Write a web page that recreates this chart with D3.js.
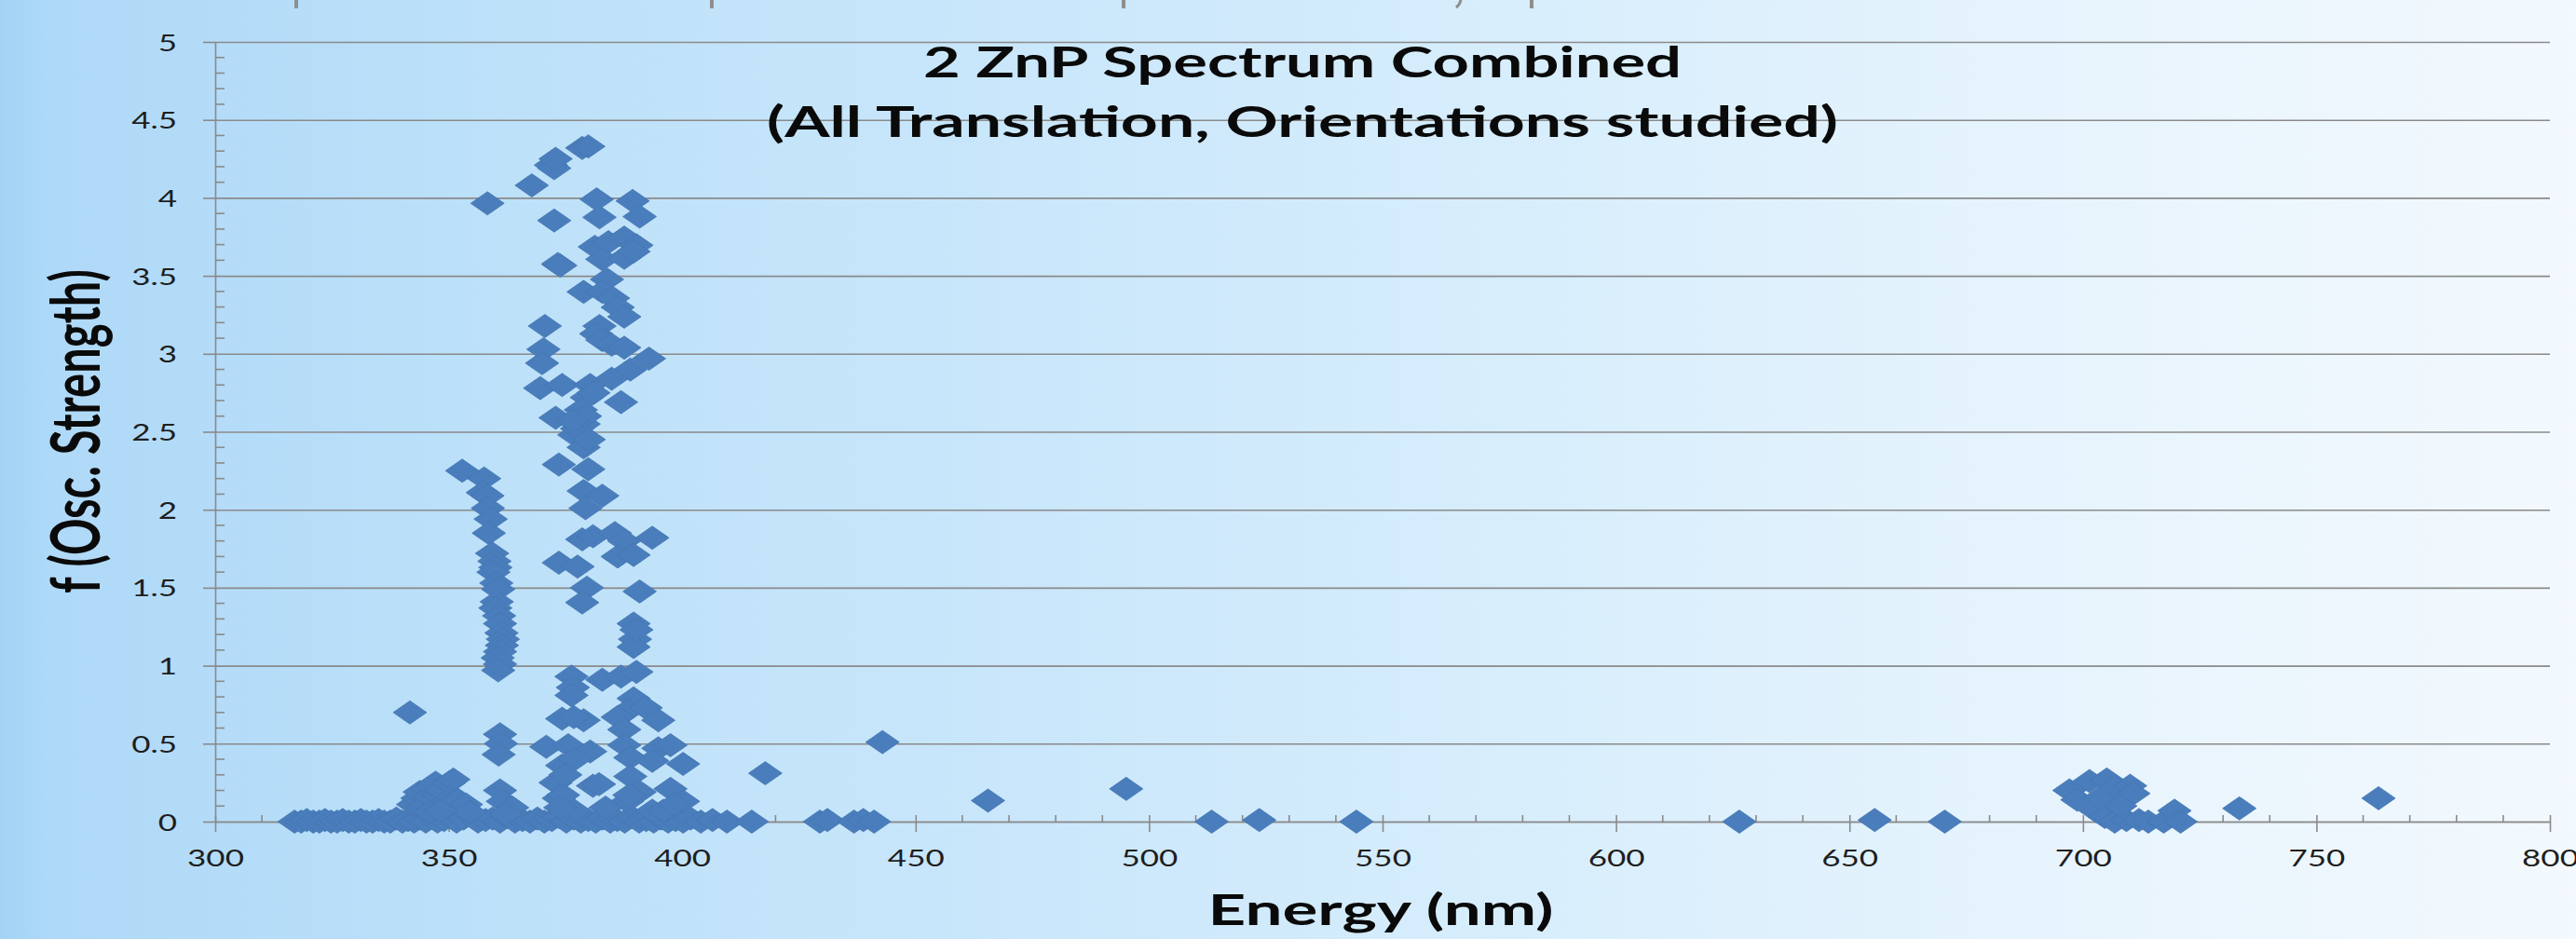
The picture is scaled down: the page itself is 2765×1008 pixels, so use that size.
<!DOCTYPE html>
<html>
<head>
<meta charset="utf-8">
<script src="https://cdn.jsdelivr.net/npm/d3@7"></script>
<style>
  html, body { margin: 0; padding: 0; overflow: hidden; background: #cfe8fb; }
</style>
</head>
<body>
<svg id="chart" width="2765" height="1008"></svg>
<script>
// ---- Data: excitation energy (nm) and oscillator strength f, grouped by spectral region ----
const baselineTransitions = [
  [317.0,0],[318.4,0],[319.6,0.01],[321.0,0],[322.3,0],[323.5,0.01],[324.8,0],[326.1,0],
  [327.3,0.01],[328.6,0],[329.9,0],[331.2,0.01],[332.4,0],[333.7,0],[335.0,0.01],[336.2,0],
  [337.5,0],[338.8,0.02],[340.1,0],[341.3,0.01],[342.6,0],[343.9,0.02],[345.1,0],[346.4,0.03],
  [347.6,0],[349.0,0.01],[350.3,0.04],[351.7,0],[353.2,0.02],[354.8,0.05],[356.3,0],[357.9,0.01],
  [359.4,0.02],[361.0,0],[362.6,0.03],[364.2,0],[365.8,0.01],[367.4,0],[369.0,0.02],[370.5,0],
  [372.1,0.01],[373.6,0.03],[375.2,0],[376.8,0.02],[378.3,0],[379.9,0.01],[381.5,0],[383.0,0.02],
  [384.6,0],[386.1,0.01],[387.7,0],[389.2,0.03],[390.8,0],[392.3,0.01],[393.9,0],[395.5,0.02],
  [397.0,0],[398.6,0.01],[400.2,0],[401.8,0.02],[404.0,0],[406.5,0.01],[409.6,0],[414.9,0],
  [429.5,0],[431.1,0.01],[436.8,0],[438.8,0.01],[441.1,0],[513.4,0],[523.6,0.01],[544.4,0],
  [626.4,0],[655.4,0.01],[670.4,0]
];

const shoulder345 = [
  [341.7,0.70],[342.4,0.11],[343.3,0.15],[343.8,0.19],[344.4,0.09],[345.5,0.21],[345.9,0.16],
  [346.6,0.23],[347.2,0.25],[347.9,0.17],[348.6,0.20],[349.2,0.12],[350.1,0.25],[351.0,0.27],
  [352.0,0.14],[353.7,0.11],[354.6,0.06],[346.0,0.06],[348.2,0.07]
];

const band360 = [
  [352.9,2.25],[357.6,2.20],[357.3,2.11],[358.3,2.09],[358.4,2.01],[359.0,1.94],[358.6,1.85],
  [359.3,1.72],[359.8,1.67],[360.0,1.63],[359.6,1.60],[360.2,1.53],[360.6,1.49],[360.3,1.41],
  [360.0,1.37],[360.8,1.32],[361.0,1.27],[361.3,1.21],[361.6,1.17],[361.4,1.13],[361.0,1.09],
  [360.5,1.05],[361.0,1.01],[360.6,0.97],[358.3,3.965],
  [361.0,0.56],[361.2,0.50],[360.7,0.43],[361.0,0.20],[361.6,0.13],[363.6,0.09],[362.2,0.05]
];

const band380Upper = [
  [367.8,4.08],[371.9,4.21],[372.6,4.19],[372.9,4.25],[378.6,4.32],[379.9,4.33],[381.7,3.99],
  [389.4,3.98],[372.6,3.855],[382.3,3.875],[390.9,3.88],[381.3,3.686],[384.2,3.716],[387.6,3.745],
  [390.2,3.696],[382.9,3.606],[387.6,3.616],[389.6,3.656],[373.4,3.576],[373.9,3.566],[383.9,3.477],
  [378.9,3.397],[382.9,3.397],[385.2,3.357],[386.2,3.298],[387.6,3.238],[370.6,3.178],[382.3,3.178],
  [381.6,3.128],[382.9,3.088],[384.9,3.058],[387.6,3.039],[392.9,2.969],[388.9,2.899],[370.3,3.029],
  [370.0,2.94],[369.6,2.78],[374.3,2.80],[380.3,2.80],[384.9,2.84],[386.9,2.69],[379.6,2.72],
  [372.9,2.59],[378.3,2.64],[378.9,2.55],[376.9,2.48],[378.9,2.40],[373.6,2.29],[379.9,2.26],
  [377.5,2.52],[379.2,2.60],[376.5,2.57],[381.0,2.75],[380.0,2.45]
];

const band380Middle = [
  [378.9,2.12],[382.9,2.09],[379.3,2.01],[378.6,1.81],[380.9,1.83],[385.6,1.85],[387.6,1.80],
  [393.6,1.82],[386.2,1.70],[389.6,1.71],[373.6,1.66],[377.6,1.635],[379.6,1.50],[378.6,1.405],
  [390.9,1.476],[389.6,1.27],[389.9,1.17],[389.6,1.12],[390.2,1.23],[376.3,0.93],[376.6,0.86],
  [376.3,0.81],[382.9,0.91],[386.9,0.93],[390.2,0.96]
];

const band380Lower = [
  [374.3,0.66],[378.9,0.65],[376.8,0.67],[389.6,0.79],[388.2,0.71],[392.2,0.73],[394.9,0.65],
  [386.2,0.67],[370.9,0.48],[375.6,0.49],[380.3,0.45],[387.6,0.59],[387.6,0.49],[394.9,0.47],
  [397.5,0.49],[388.9,0.41],[393.6,0.39],[400.2,0.37],[374.3,0.36],[372.9,0.25],[380.9,0.23],
  [388.9,0.29],[390.9,0.19],[397.5,0.21],[400.2,0.13],[373.6,0.15],[388.2,0.13],[383.6,0.09],
  [376.9,0.07],[393.6,0.07],[396.0,0.07],[398.3,0.11],[374.5,0.17],[373.9,0.09],[382.2,0.24],
  [388.7,0.17],[377.0,0.40],[375.0,0.30]
];

const visibleTail = [
  [417.8,0.31],[442.9,0.51],[465.5,0.135],[495.1,0.21]
];

const band705 = [
  [697.1,0.20],[698.8,0.14],[701.4,0.26],[705.1,0.27],[706.8,0.22],[710.1,0.23],[710.8,0.18],
  [702.7,0.07],[704.7,0.03],[706.8,0.0],[709.3,0.01],[712.0,0.01],[714.0,0.0],[717.3,0.0],
  [719.6,0.07],[720.9,0.0],[733.5,0.085],[763.3,0.15],[703.5,0.15],[708.0,0.10]
];

const xTickValues = [300, 350, 400, 450, 500, 550, 600, 650, 700, 750, 800];
const xTickLabels = ["300","350","400","450","500","550","600","650","700","750","800"];
const yTickValues = [0, 0.5, 1, 1.5, 2, 2.5, 3, 3.5, 4, 4.5, 5];
const yTickLabels = ["0","0.5","1","1.5","2","2.5","3","3.5","4","4.5","5"];

const titleLines = ["2 ZnP Spectrum Combined", "(All Translation, Orientations studied)"];
const xAxisTitle = "Energy (nm)";
const yAxisTitle = "f (Osc. Strength)";

// ---- Drawing ----
const W = 2765, H = 1008;
const svg = d3.select("#chart");
const defs = svg.append("defs");

const bg = defs.append("linearGradient").attr("id", "bg")
  .attr("x1", 0).attr("x2", 1).attr("y1", 0).attr("y2", 0);
[[0, "#a2d3f6"], [0.02, "#afd9f8"], [0.2, "#bde1f9"], [0.4, "#cae7fb"],
 [0.6, "#d8eefc"], [0.8, "#e7f4fd"], [1, "#f3f9fe"]]
  .forEach(([o, c]) => bg.append("stop").attr("offset", o).attr("stop-color", c));
svg.append("rect").attr("width", W).attr("height", H).attr("fill", "url(#bg)");

// remnants of the header table border along the top edge
const header = svg.append("g").attr("stroke", "#8f8f8f").attr("stroke-width", 4);
[318, 764, 1206, 1644].forEach(px =>
  header.append("line").attr("x1", px).attr("x2", px).attr("y1", 0).attr("y2", 9));
svg.append("path").attr("d", "M1568,0 Q1567,5 1563,8").attr("fill", "none")
  .attr("stroke", "#8f8f8f").attr("stroke-width", 3);

const x = d3.scaleLinear().domain([300, 800]).range([231, 2737]);
const y = d3.scaleLinear().domain([0, 5]).range([882, 45]);

const gridColor = "#8a8a8a";
const fontFamily = "Lato, 'Open Sans', sans-serif";

// horizontal gridlines
svg.append("g").attr("transform", `translate(${x(300)},0)`)
  .call(d3.axisLeft(y).tickValues(yTickValues).tickSize(-(x(800) - x(300))).tickFormat(""))
  .call(g => g.select(".domain").remove())
  .call(g => g.selectAll("line").attr("stroke", gridColor).attr("stroke-width", 1.6));

// y axis with outward major ticks and labels
const yAxisG = svg.append("g").attr("transform", `translate(${x(300)},0)`)
  .call(d3.axisLeft(y).tickValues(yTickValues).tickSize(13).tickSizeOuter(0)
    .tickFormat((d, i) => yTickLabels[i]));
yAxisG.select(".domain").attr("stroke", gridColor).attr("stroke-width", 1.6);
yAxisG.selectAll(".tick line").attr("stroke", gridColor).attr("stroke-width", 1.6);
yAxisG.selectAll(".tick text")
  .attr("x", -41 / 1.4).attr("dy", "0.36em")
  .attr("transform", "scale(1.4,1)")
  .attr("font-family", fontFamily).attr("font-size", 25).attr("fill", "#1e1e1e");

// y minor ticks (inside)
const yMinor = d3.range(1, 50).filter(k => k % 5 !== 0).map(k => k / 10);
svg.append("g").selectAll("line").data(yMinor).join("line")
  .attr("x1", x(300)).attr("x2", x(300) + 10)
  .attr("y1", d => y(d)).attr("y2", d => y(d))
  .attr("stroke", gridColor).attr("stroke-width", 1.6);

// x axis
const xAxisG = svg.append("g").attr("transform", `translate(0,${y(0)})`)
  .call(d3.axisBottom(x).tickValues(xTickValues).tickSize(11).tickSizeOuter(0)
    .tickFormat((d, i) => xTickLabels[i]));
xAxisG.select(".domain").attr("stroke", gridColor).attr("stroke-width", 1.6);
xAxisG.selectAll(".tick line").attr("y1", -7).attr("stroke", gridColor).attr("stroke-width", 1.6);
xAxisG.selectAll(".tick text")
  .attr("y", 48).attr("dy", 0)
  .attr("transform", "scale(1.4,1)")
  .attr("font-family", fontFamily).attr("font-size", 25).attr("fill", "#1e1e1e");

// x minor ticks (every 10 nm, above the axis)
const xMinor = d3.range(310, 800, 10).filter(v => v % 50 !== 0);
svg.append("g").selectAll("line").data(xMinor).join("line")
  .attr("x1", d => x(d)).attr("x2", d => x(d))
  .attr("y1", y(0) - 7).attr("y2", y(0))
  .attr("stroke", gridColor).attr("stroke-width", 1.6);

// scatter markers: flattened diamonds
const allTransitions = [].concat(baselineTransitions, shoulder345, band360,
  band380Upper, band380Middle, band380Lower, visibleTail, band705);
const diamond = "M0,-12.5L18,0L0,12.5L-18,0Z";
svg.append("g").selectAll("path").data(allTransitions).join("path")
  .attr("d", diamond)
  .attr("transform", d => `translate(${x(d[0])},${y(d[1])})`)
  .attr("fill", "#4a7dbb").attr("stroke", "#4476b3").attr("stroke-width", 0.8);

// titles
const titleG = svg.append("g").attr("font-family", fontFamily).attr("font-weight", 700)
  .attr("fill", "#0a0a0a").attr("text-anchor", "middle");
titleG.append("text").attr("x", 1398).attr("y", 83).attr("font-size", 46)
  .attr("textLength", 814).attr("lengthAdjust", "spacingAndGlyphs").text(titleLines[0]);
titleG.append("text").attr("x", 1398).attr("y", 147).attr("font-size", 46)
  .attr("textLength", 1150).attr("lengthAdjust", "spacingAndGlyphs").text(titleLines[1]);

titleG.append("text").attr("x", 1482).attr("y", 993).attr("font-size", 45)
  .attr("textLength", 371).attr("lengthAdjust", "spacingAndGlyphs").text(xAxisTitle);

titleG.append("text").attr("transform", "translate(107,463) rotate(-90)")
  .attr("font-size", 72)
  .attr("textLength", 348).attr("lengthAdjust", "spacingAndGlyphs").text(yAxisTitle);
</script>
</body>
</html>
